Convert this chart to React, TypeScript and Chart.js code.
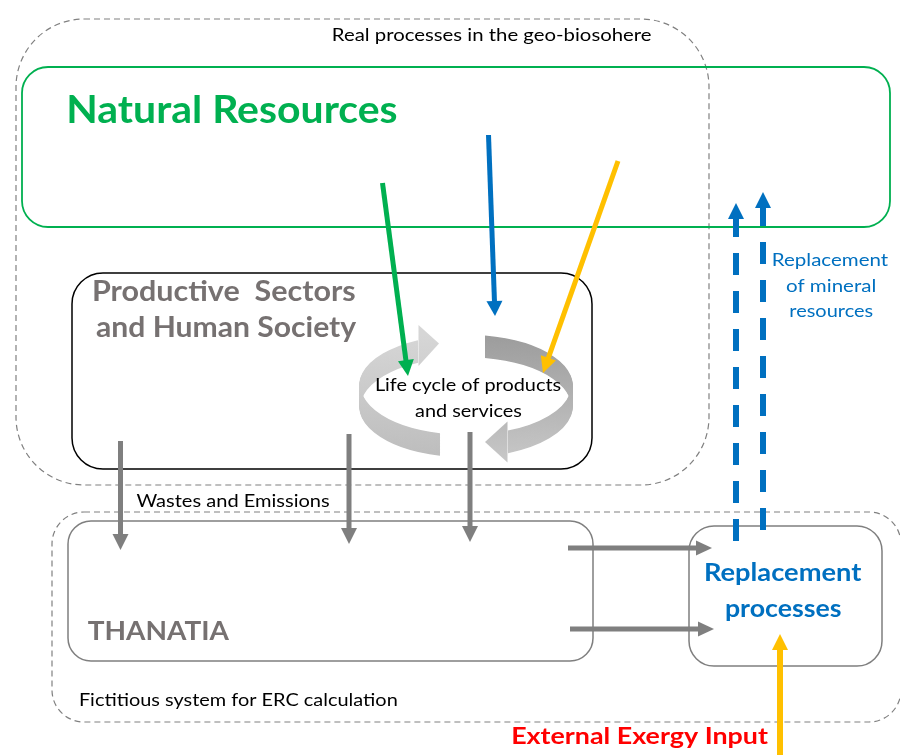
import React, { useEffect, useRef } from "react";
import { Chart, registerables } from "chart.js";

Chart.register(...registerables);

// ---------- DATA (diagram units: x 0..900 left→right, y 0..755 top→bottom) ----------

// Frames (rounded boxes)
const frameNames = ["geoBiosphere", "naturalResources", "productive", "fictitious", "thanatia", "replacement"];
const frameX1 = [16, 22, 72, 52, 68, 689];
const frameY1 = [19, 67, 273, 512, 521, 526];
const frameX2 = [709, 890, 592, 901, 593, 882];
const frameY2 = [485, 227, 469, 722, 661, 666];

// Flows (arrows): start point and tip point
const flowNames = [
  "greenResource", "blueResource", "yellowResource",
  "waste1", "waste2", "waste3",
  "thanatiaToReplacement1", "thanatiaToReplacement2",
  "replacementUp1", "replacementUp2",
  "externalExergy",
];
const flowFromX = [382.5, 488.5, 618, 120.5, 349, 470, 568, 570, 736, 763, 780];
const flowFromY = [183, 135, 161, 441, 434, 432, 548, 629, 543, 532, 757];
const flowToX = [408, 495, 543, 120.5, 349, 470, 712, 714, 736, 763, 780];
const flowToY = [376, 316, 373, 550, 544, 542, 548, 629, 203, 192, 634];

// Life-cycle loop: a ribbon wall around an ellipse, split into two arrows
const cycleCenter = [466, 385];
const cycleRadii = [106, 50];
const cycleWallHeight = 22;
const cycleStartX = [440, 485];
const cycleHeadBaseX = [418, 508];
const cycleTipX = [439, 485];
const cycleHeadShift = [-6, 0];

// Labels
const labelTexts = [
  "Real processes in the geo-biosohere",
  "Natural Resources",
  "Productive  Sectors",
  "and Human Society",
  "Life cycle of products",
  "and services",
  "Replacement",
  "of mineral",
  "resources",
  "Wastes and Emissions",
  "THANATIA",
  "Fictitious system for ERC calculation",
  "Replacement",
  "processes",
  "External Exergy Input",
];
const labelLeft = [333, 69.5, 94, 96, 376, 415, 773, 786, 790.5, 136.5, 87.7, 80, 705, 726, 512.3];
const labelRight = [651.5, 396.7, 355, 357, 561.5, 522.3, 888, 875, 872.7, 330, 230, 396.7, 862.3, 841.7, 768.3];
const labelBaseline = [40.5, 123, 301, 336.5, 391, 417, 266, 291.7, 317, 506.5, 640, 706, 581, 617, 744];

// ---------- STYLES ----------
const FONT = 'Lato, "Open Sans", sans-serif';
const GREEN = "#00b050";
const BLUE = "#0070c0";
const YELLOW = "#ffc000";
const GREY = "#7f7f7f";
const TEXT_GREY = "#767171";

const frameStyles: Record<string, { r: number; lw: number; color: string; dash: number[] }> = {
  geoBiosphere: { r: 68, lw: 1.2, color: "#808080", dash: [6, 4] },
  naturalResources: { r: 26, lw: 1.8, color: GREEN, dash: [] },
  productive: { r: 31, lw: 1.5, color: "#000000", dash: [] },
  fictitious: { r: 32, lw: 1.2, color: "#808080", dash: [6, 4] },
  thanatia: { r: 23, lw: 1.5, color: GREY, dash: [] },
  replacement: { r: 25, lw: 1.5, color: GREY, dash: [] },
};

const flowStyles: Record<string, { color: string; w: number; hw: number; hl: number; dash?: number[] }> = {
  greenResource: { color: GREEN, w: 5, hw: 16, hl: 16 },
  blueResource: { color: BLUE, w: 5, hw: 16, hl: 15 },
  yellowResource: { color: YELLOW, w: 5, hw: 16, hl: 16 },
  waste1: { color: GREY, w: 5, hw: 16, hl: 16 },
  waste2: { color: GREY, w: 5, hw: 16, hl: 16 },
  waste3: { color: GREY, w: 5, hw: 16, hl: 16 },
  thanatiaToReplacement1: { color: GREY, w: 5, hw: 15, hl: 16 },
  thanatiaToReplacement2: { color: GREY, w: 5, hw: 15, hl: 16 },
  replacementUp1: { color: BLUE, w: 6, hw: 16, hl: 16, dash: [22, 16] },
  replacementUp2: { color: BLUE, w: 6, hw: 16, hl: 16, dash: [22, 16] },
  externalExergy: { color: YELLOW, w: 6, hw: 16, hl: 16 },
};

const labelStyles = [
  { capH: 12.5, weight: 400, color: "#000000" },
  { capH: 28, weight: 700, color: GREEN },
  { capH: 21, weight: 700, color: TEXT_GREY },
  { capH: 21, weight: 700, color: TEXT_GREY },
  { capH: 13, weight: 400, color: "#000000" },
  { capH: 13, weight: 400, color: "#000000" },
  { capH: 12.5, weight: 400, color: BLUE },
  { capH: 12.5, weight: 400, color: BLUE },
  { capH: 12.5, weight: 400, color: BLUE },
  { capH: 13, weight: 400, color: "#000000" },
  { capH: 20, weight: 700, color: TEXT_GREY },
  { capH: 13, weight: 400, color: "#000000" },
  { capH: 18, weight: 700, color: BLUE },
  { capH: 18, weight: 700, color: BLUE },
  { capH: 17, weight: 700, color: "#ff0000" },
];

const cycleFills = [
  ["#d6d6d6", "#bdbdbd"],
  ["#9c9c9c", "#c6c6c6"],
];

// ---------- helpers ----------
function flowGeometry(i: number) {
  const st = flowStyles[flowNames[i]];
  const dx = flowToX[i] - flowFromX[i];
  const dy = flowToY[i] - flowFromY[i];
  const len = Math.hypot(dx, dy);
  const ux = dx / len;
  const uy = dy / len;
  const baseX = flowToX[i] - ux * st.hl;
  const baseY = flowToY[i] - uy * st.hl;
  return { ux, uy, baseX, baseY, st };
}

function drawLabel(ctx: CanvasRenderingContext2D, i: number, px: (v: number) => number, py: (v: number) => number) {
  const st = labelStyles[i];
  const text = labelTexts[i];
  const left = px(labelLeft[i]);
  const right = px(labelRight[i]);
  const base = py(labelBaseline[i]);
  ctx.save();
  ctx.font = `${st.weight} 100px ${FONT}`;
  const capRatio = ctx.measureText("H").actualBoundingBoxAscent / 100 || 0.72;
  const size = st.capH / capRatio;
  ctx.font = `${st.weight} ${size}px ${FONT}`;
  const m = ctx.measureText(text);
  const ink = m.actualBoundingBoxLeft + m.actualBoundingBoxRight;
  const sx = (right - left) / ink;
  ctx.translate(left, base);
  ctx.scale(sx, 1);
  ctx.textAlign = "left";
  ctx.textBaseline = "alphabetic";
  ctx.fillStyle = st.color;
  ctx.fillText(text, m.actualBoundingBoxLeft, 0);
  ctx.restore();
}

function angleAt(x: number, lower: boolean) {
  const c = Math.max(-1, Math.min(1, (x - cycleCenter[0]) / cycleRadii[0]));
  const a = Math.acos(c);
  return lower ? a : 2 * Math.PI - a;
}

function drawCycleArrow(ctx: CanvasRenderingContext2D, k: number, px: (v: number) => number, py: (v: number) => number) {
  const [cx, cy] = cycleCenter;
  const [rx, ry] = cycleRadii;
  const h = cycleWallHeight;
  const startLower = k === 0;
  const ts = angleAt(cycleStartX[k], startLower);
  let te = angleAt(cycleHeadBaseX[k], !startLower);
  if (te < ts) te += 2 * Math.PI;
  const grad = ctx.createLinearGradient(0, py(cy - ry), 0, py(cy + ry + h));
  grad.addColorStop(0, cycleFills[k][0]);
  grad.addColorStop(1, cycleFills[k][1]);
  const prx = px(cx + rx) - px(cx);
  const pry = py(cy + ry) - py(cy);
  ctx.save();
  ctx.strokeStyle = grad;
  ctx.fillStyle = grad;
  ctx.lineWidth = 1.6;
  for (let d = 0.5; d <= h - 0.5; d += 0.75) {
    ctx.beginPath();
    ctx.ellipse(px(cx), py(cy + d), prx, pry, 0, ts, te, false);
    ctx.stroke();
  }
  // head
  const yEnd = cy + ry * Math.sin(te);
  const mid = yEnd + h / 2 + cycleHeadShift[k];
  const hh = 20.5;
  ctx.beginPath();
  ctx.moveTo(px(cycleHeadBaseX[k] + (k === 0 ? 0.5 : -0.5)), py(mid - hh));
  ctx.lineTo(px(cycleTipX[k]), py(mid - (k === 0 ? 2 : 0)));
  ctx.lineTo(px(cycleHeadBaseX[k] + (k === 0 ? 0.5 : -0.5)), py(mid + hh));
  ctx.closePath();
  ctx.fill();
  ctx.restore();
}

const diagramPlugin = {
  id: "diagram",
  beforeDatasetsDraw(chart: any) {
    const ctx: CanvasRenderingContext2D = chart.ctx;
    const xs = chart.scales.x;
    const ys = chart.scales.y;
    const px = (v: number) => xs.getPixelForValue(v);
    const py = (v: number) => ys.getPixelForValue(v);
    frameNames.forEach((name, i) => {
      const st = frameStyles[name];
      const x1 = px(frameX1[i]);
      const y1 = py(frameY1[i]);
      const x2 = px(frameX2[i]);
      const y2 = py(frameY2[i]);
      ctx.save();
      ctx.beginPath();
      (ctx as any).roundRect(x1, y1, x2 - x1, y2 - y1, st.r);
      ctx.lineWidth = st.lw;
      ctx.strokeStyle = st.color;
      ctx.setLineDash(st.dash);
      ctx.stroke();
      ctx.restore();
    });
    drawCycleArrow(ctx, 0, px, py);
    drawCycleArrow(ctx, 1, px, py);
  },
  afterDatasetsDraw(chart: any) {
    const ctx: CanvasRenderingContext2D = chart.ctx;
    const xs = chart.scales.x;
    const ys = chart.scales.y;
    const px = (v: number) => xs.getPixelForValue(v);
    const py = (v: number) => ys.getPixelForValue(v);
    flowNames.forEach((_, i) => {
      const g = flowGeometry(i);
      const nx = -g.uy;
      const ny = g.ux;
      const hw = g.st.hw / 2;
      ctx.save();
      ctx.fillStyle = g.st.color;
      ctx.beginPath();
      ctx.moveTo(px(flowToX[i]), py(flowToY[i]));
      ctx.lineTo(px(g.baseX + nx * hw), py(g.baseY + ny * hw));
      ctx.lineTo(px(g.baseX - nx * hw), py(g.baseY - ny * hw));
      ctx.closePath();
      ctx.fill();
      ctx.restore();
    });
    labelTexts.forEach((_, i) => drawLabel(ctx, i, px, py));
  },
};

export default function App() {
  const ref = useRef<HTMLCanvasElement | null>(null);
  useEffect(() => {
    if (!ref.current) return;
    const datasets = flowNames.map((name, i) => {
      const g = flowGeometry(i);
      return {
        label: name,
        data: [
          { x: g.baseX + g.ux * 1, y: g.baseY + g.uy * 1 },
          { x: flowFromX[i], y: flowFromY[i] },
        ],
        showLine: true,
        borderColor: g.st.color,
        backgroundColor: g.st.color,
        borderWidth: g.st.w,
        borderDash: g.st.dash ?? [],
        borderDashOffset: g.st.dash ? 3 : 0,
        pointRadius: 0,
        pointHoverRadius: 0,
        fill: false,
        clip: false as any,
      };
    });
    const chart = new Chart(ref.current, {
      type: "scatter",
      data: { datasets },
      options: {
        animation: false,
        responsive: false,
        maintainAspectRatio: false,
        devicePixelRatio: 1,
        events: [],
        layout: { padding: 0 },
        plugins: { legend: { display: false }, tooltip: { enabled: false } },
        scales: {
          x: { type: "linear", min: 0, max: 900, display: false },
          y: { type: "linear", min: 0, max: 755, reverse: true, display: false },
        },
      },
      plugins: [diagramPlugin],
    });
    return () => chart.destroy();
  }, []);
  return (
    <div style={{ position: "absolute", left: 0, top: 0, width: 900, height: 755, background: "#ffffff" }}>
      <canvas ref={ref} width={900} height={755} style={{ display: "block" }} />
    </div>
  );
}
